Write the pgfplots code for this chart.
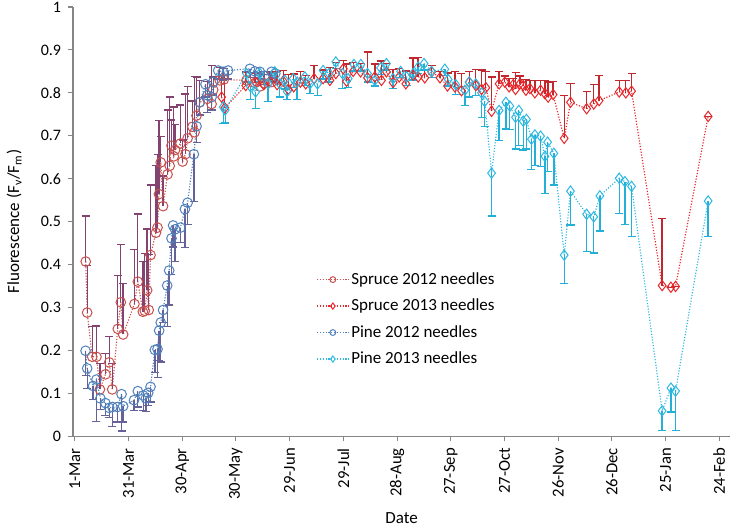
\documentclass[border=0pt]{standalone}
\usepackage{pgfplots}
\usepackage{pgfplotstable}
\pgfplotsset{compat=1.18}
\usepackage{fontspec}
\setmainfont{Carlito}
\definecolor{sprA}{HTML}{C8504D}
\definecolor{sprAe}{HTML}{83426F}
\definecolor{sprB}{HTML}{E8272B}
\definecolor{sprBe}{HTML}{C0282D}
\definecolor{pinA}{HTML}{4F81BD}
\definecolor{pinAe}{HTML}{65629A}
\definecolor{pinB}{HTML}{2FB8E0}
\definecolor{pinBe}{HTML}{22B0D8}
\definecolor{axgray}{HTML}{868686}

\pgfplotstableread{
d v e
6.1 0.407 0.106
6.9 0.288 0.109
9.7 0.185 0.070
12.1 0.185 0.072
14.0 0.109 0.061
17.1 0.144 0.049
19.2 0.172 0.061
20.9 0.109 0.061
24.0 0.250 0.125
25.7 0.312 0.135
27.0 0.237 0.118
33.3 0.308 0.127
35.2 0.360 0.158
38.0 0.290 0.117
39.1 0.292 0.133
40.4 0.340 0.143
41.3 0.294 0.129
42.3 0.422 0.163
45.3 0.474 0.156
46.2 0.486 0.170
47.0 0.564 0.171
48.0 0.638 0.060
49.3 0.536 0.070
51.8 0.610 0.150
53.0 0.630 0.160
54.0 0.677 0.060
55.3 0.652 0.115
56.0 0.667 0.060
59.0 0.682 0.090
60.2 0.640 0.050
61.8 0.657 0.140
63.0 0.694 0.120
65.7 0.721 0.060
66.9 0.708 0.130
68.0 0.747 0.090
69.8 0.778 0.050
74.0 0.786 0.040
76.4 0.774 0.090
77.3 0.807 0.030
81.0 0.829 0.030
83.2 0.831 0.025
95.9 0.829 0.020
100.6 0.823 0.025
103.4 0.815 0.030
106.0 0.822 0.020
109.9 0.825 0.025
}\spruceA

\pgfplotstableread{
d v e
82.0 0.790 0.050
83.8 0.765 0.075
95.5 0.817 0.030
101.0 0.825 0.020
105.6 0.819 0.030
109.0 0.827 0.020
113.0 0.819 0.030
116.4 0.827 0.025
119.2 0.808 0.035
122.3 0.814 0.030
126.0 0.825 0.025
129.0 0.821 0.020
133.7 0.833 0.030
138.7 0.833 0.020
142.5 0.829 0.030
145.8 0.845 0.025
150.0 0.856 0.020
151.8 0.827 0.040
155.5 0.850 0.020
159.6 0.849 0.020
163.5 0.835 0.060
167.6 0.837 0.030
171.3 0.829 0.045
174.1 0.849 0.020
177.8 0.824 0.030
181.2 0.837 0.020
184.9 0.821 0.030
189.0 0.841 0.040
191.8 0.837 0.045
195.5 0.835 0.020
199.3 0.849 0.015
204.0 0.835 0.015
208.2 0.816 0.030
212.3 0.814 0.035
216.0 0.805 0.040
220.3 0.825 0.024
224.0 0.817 0.038
227.2 0.808 0.045
229.6 0.812 0.037
232.8 0.757 0.080
237.0 0.821 0.028
240.2 0.825 0.014
242.6 0.814 0.019
244.9 0.819 0.014
246.2 0.808 0.039
248.6 0.821 0.018
250.5 0.817 0.014
252.0 0.806 0.025
254.2 0.810 0.019
257.0 0.800 0.029
260.2 0.806 0.023
262.6 0.798 0.030
264.4 0.790 0.035
267.2 0.796 0.031
273.4 0.694 0.100
276.9 0.778 0.043
285.9 0.763 0.040
289.9 0.774 0.046
292.9 0.782 0.058
304.1 0.802 0.026
307.8 0.800 0.029
311.0 0.804 0.041
328.1 0.351 0.156
333.0 0.347 0.000
335.6 0.349 0.000
353.8 0.745 0.000
}\spruceB

\pgfplotstableread{
d v e
6.0 0.199 0.057
6.9 0.158 0.047
10.2 0.117 0.032
12.1 0.132 0.097
14.3 0.088 0.026
17.1 0.077 0.029
19.2 0.066 0.023
21.0 0.068 0.045
23.8 0.068 0.035
26.1 0.098 0.086
27.0 0.070 0.037
33.1 0.084 0.024
35.2 0.105 0.037
38.2 0.095 0.035
39.7 0.088 0.030
41.0 0.101 0.030
42.3 0.115 0.035
44.7 0.201 0.053
46.2 0.203 0.066
47.1 0.246 0.069
48.0 0.265 0.092
49.3 0.294 0.029
51.6 0.351 0.096
52.7 0.386 0.080
54.0 0.461 0.085
54.9 0.491 0.050
56.0 0.482 0.075
59.0 0.486 0.035
61.5 0.529 0.090
63.0 0.544 0.050
66.5 0.657 0.110
68.0 0.722 0.037
69.8 0.778 0.030
73.0 0.820 0.030
74.1 0.794 0.040
76.4 0.790 0.030
77.3 0.825 0.030
80.1 0.852 0.020
82.8 0.849 0.020
85.6 0.852 0.020
97.8 0.856 0.020
100.6 0.850 0.015
103.4 0.849 0.015
106.0 0.840 0.020
109.9 0.849 0.015
112.0 0.845 0.020
}\pineA

\pgfplotstableread{
d v e
82.9 0.767 0.039
84.0 0.760 0.030
95.9 0.845 0.020
98.0 0.815 0.030
101.0 0.802 0.039
103.4 0.845 0.020
108.0 0.821 0.041
111.7 0.849 0.020
114.5 0.821 0.031
117.3 0.829 0.020
118.6 0.803 0.018
122.0 0.833 0.020
124.2 0.825 0.040
128.5 0.837 0.020
131.3 0.821 0.023
135.6 0.821 0.027
138.7 0.852 0.020
142.0 0.845 0.020
145.8 0.872 0.015
149.5 0.845 0.035
152.7 0.833 0.020
155.9 0.866 0.015
159.8 0.866 0.015
163.5 0.845 0.020
167.6 0.829 0.013
170.8 0.858 0.015
174.1 0.868 0.015
177.8 0.833 0.023
182.0 0.850 0.015
185.3 0.837 0.020
189.0 0.845 0.015
191.8 0.860 0.015
195.1 0.868 0.015
199.3 0.850 0.015
206.7 0.855 0.015
208.6 0.831 0.015
212.8 0.819 0.023
217.9 0.806 0.036
220.3 0.825 0.035
224.0 0.821 0.027
227.2 0.800 0.057
229.0 0.780 0.058
232.8 0.613 0.100
237.0 0.759 0.070
240.8 0.778 0.062
243.0 0.769 0.055
246.2 0.743 0.074
248.0 0.759 0.082
250.5 0.734 0.067
252.3 0.738 0.069
255.1 0.692 0.070
257.0 0.702 0.072
260.2 0.699 0.070
262.6 0.652 0.086
264.1 0.685 0.069
267.6 0.659 0.074
273.4 0.422 0.067
276.9 0.571 0.079
285.9 0.517 0.086
289.9 0.511 0.084
293.3 0.560 0.082
304.1 0.601 0.082
307.3 0.593 0.100
311.0 0.582 0.116
328.1 0.059 0.046
333.0 0.112 0.056
335.6 0.105 0.092
353.8 0.548 0.082
}\pineB

\begin{document}
\begin{tikzpicture}
\begin{axis}[
  name=ax,
  scale only axis,
  width=394pt, height=257.4pt,
  xmin=-1, xmax=366, ymin=0, ymax=1,
  axis x line=bottom, axis y line=left,
  axis line style={axgray, line width=0.8pt, -},
  xtick={0,30,...,360},
  xticklabels={1-Mar,31-Mar,30-Apr,30-May,29-Jun,29-Jul,28-Aug,27-Sep,27-Oct,26-Nov,26-Dec,25-Jan,24-Feb},
  x tick label style={rotate=90, anchor=east, font=\fontsize{10}{12}\selectfont, inner sep=1pt, xshift=-3pt},
  ytick={0,0.1,...,1},
  y tick label style={font=\fontsize{9.6}{11}\selectfont, inner sep=1pt, xshift=-3pt},
  /pgf/number format/assume math mode=true,
  tick style={axgray, line width=0.6pt},
  tick align=outside,
  major tick length=3pt,
  xlabel={Date}, ylabel={Fluorescence (F\textsubscript{v}/F\textsubscript{m})},
  label style={font=\fontsize{10.2}{12}\selectfont},
  xlabel style={yshift=-3pt},
  ylabel style={yshift=7pt},
  clip=false,
  legend style={at={(rel axis cs:0.37,0.387)}, anchor=north west, draw=none, fill=none,
    font=\fontsize{10.2}{12}\selectfont, row sep=4.9pt, inner sep=0pt,
    nodes={inner sep=1.2pt}},
  legend cell align=left,
  legend image code/.code={\draw[mark repeat=2,mark phase=2,#1,every mark/.append style={scale=0.6}] plot coordinates {(0pt,0pt)(9.5pt,0pt)(19pt,0pt)};},
  every axis plot/.append style={line width=0.7pt, densely dotted, mark options={solid, fill=white, line width=0.6pt}},
]
\addplot[sprA, mark=o, mark size=2.9pt,
  error bars/.cd, y dir=plus, y explicit, error bar style={sprAe, solid, line width=0.8pt}, error mark options={sprAe, solid, rotate=90, mark size=2.4pt, line width=0.8pt}]
  table[x=d, y=v, y error=e] {\spruceA};
\addlegendentry{Spruce 2012 needles}
\addplot[sprB, mark=diamond, mark size=3.1pt,
  error bars/.cd, y dir=plus, y explicit, error bar style={sprBe, solid, line width=0.8pt}, error mark options={sprBe, solid, rotate=90, mark size=2.4pt, line width=0.8pt}]
  table[x=d, y=v, y error=e] {\spruceB};
\addlegendentry{Spruce 2013 needles}
\addplot[pinA, mark=o, mark size=2.9pt,
  error bars/.cd, y dir=minus, y explicit, error bar style={pinAe, solid, line width=0.8pt}, error mark options={pinAe, solid, rotate=90, mark size=2.4pt, line width=0.8pt}]
  table[x=d, y=v, y error=e] {\pineA};
\addlegendentry{Pine 2012 needles}
\addplot[pinB, mark=diamond, mark size=3.1pt,
  error bars/.cd, y dir=minus, y explicit, error bar style={pinBe, solid, line width=0.8pt}, error mark options={pinBe, solid, rotate=90, mark size=2.4pt, line width=0.8pt}]
  table[x=d, y=v, y error=e] {\pineB};
\addlegendentry{Pine 2013 needles}
\end{axis}
\pgfresetboundingbox
\path (ax.south west) ++(-43.8pt,-57pt) coordinate (bl);
\path (ax.north east) ++(4.2pt,4.2pt) coordinate (tr);
\useasboundingbox (bl) rectangle (tr);
\end{tikzpicture}
\end{document}
